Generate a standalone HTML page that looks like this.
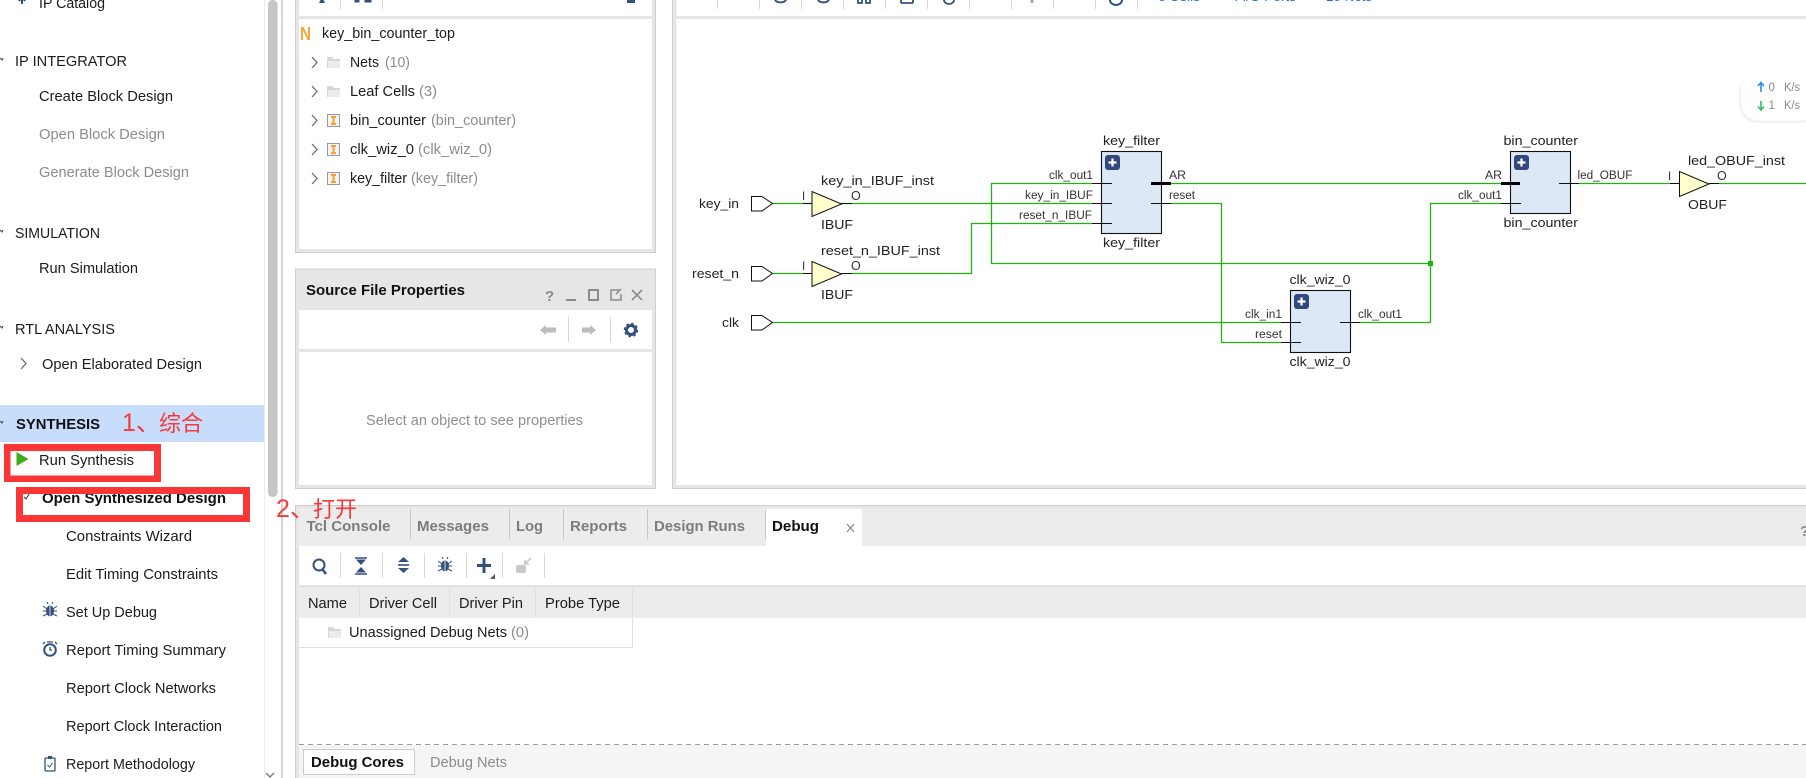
<!DOCTYPE html>
<html><head><meta charset="utf-8"><style>
html,body{margin:0;padding:0;background:#fff;width:1806px;height:778px;overflow:hidden}
svg{display:block}
text{font-family:"Liberation Sans","Noto Sans CJK SC",sans-serif;fill:#1c1c1c}
.n{font-size:14.5px}
.g{font-size:14.5px;fill:#8c8c8c}
.b{font-size:14.5px;font-weight:bold;fill:#111}
.t{font-size:14.5px;font-weight:bold;fill:#7c7c7c}
.d{font-size:13px;fill:#222}
.p{font-size:11.5px;fill:#333}
.r{font-size:22px;fill:#f63a3a}
.r2{font-size:25px;fill:#f63a3a}
.w{fill:none;stroke:#1fb30f;stroke-width:1.3}
.k{stroke:#111;stroke-width:1.1;fill:none}
.kk{stroke:#000;stroke-width:3;fill:none}
.box{fill:#dde8f7;stroke:#111;stroke-width:1.1}
.buf{fill:#ffffcc;stroke:#111;stroke-width:1}
.port{fill:#fff;stroke:#111;stroke-width:1}
.sep{stroke:#d6d6d6;stroke-width:1}
.ic{fill:#33507f}
</style></head><body>
<svg width="1806" height="778" viewBox="0 0 1806 778" xmlns="http://www.w3.org/2000/svg">
<defs>
<g id="folder"><path d="M0 2h5l1.500 2H13v9H0z" fill="#d6d6d6"/><path d="M1 6h12v7H1z" fill="#ececec"/></g>
<g id="inst"><rect x=".5" y=".5" width="12" height="12" fill="#f4f4f4" stroke="#9a9a9a"/><path d="M4 3h5M4 10h5M6.500 3v7" stroke="#f5a030" stroke-width="2" fill="none"/></g>
<g id="chev"><path d="M0 0l5 5.500-5 5.500" fill="none" stroke="#666" stroke-width="1.200"/></g>
<g id="plus"><rect width="15" height="15" rx="3" fill="#33487e"/><path d="M7.500 3.500v8M3.500 7.500h8" stroke="#fff" stroke-width="2.200"/></g>
<g id="bug"><ellipse cx="0" cy="1" rx="4" ry="5.500" fill="#33507f"/><path d="M-7 -4l4 3M7 -4l-4 3M-7 1h3M7 1h-3M-7 6l4 -2M7 6l-4 -2M-2 -6l-1 -2M2 -6l1 -2" stroke="#33507f" stroke-width="1" fill="none"/><path d="M0 -4v11" stroke="#fff" stroke-width=".8"/></g>
</defs>

<rect width="1806" height="778" fill="#fff"/>

<!-- left nav -->
<rect x="0" y="405" width="264" height="37" fill="#c8dcfb"/>
<rect x="264" y="0" width="1" height="778" fill="#ececec"/>
<rect x="268" y="0" width="9.500" height="497" rx="4.500" fill="#c6c6c6"/>
<rect x="281.500" y="0" width="1" height="778" fill="#a8a8a8"/>
<path d="M266 773l4 4 4-4" stroke="#777" fill="none" stroke-width="1.300"/>
<path d="M0 58l2 2 1-2M0 230l2 2 1-2M0 326l2 2 1-2M0 421l2 2 1-2" stroke="#444" fill="none"/>
<path d="M22 -3v7M19 1l3-4 3 4" stroke="#33507f" stroke-width="2" fill="none"/>
<text class="n" x="39" y="8" textLength="66" lengthAdjust="spacingAndGlyphs">IP Catalog</text>
<text class="n" x="15" y="66" textLength="112" lengthAdjust="spacingAndGlyphs">IP INTEGRATOR</text>
<text class="n" x="39" y="101" textLength="134" lengthAdjust="spacingAndGlyphs">Create Block Design</text>
<text class="g" x="39" y="139" textLength="126" lengthAdjust="spacingAndGlyphs">Open Block Design</text>
<text class="g" x="39" y="177" textLength="150" lengthAdjust="spacingAndGlyphs">Generate Block Design</text>
<text class="n" x="15" y="238" textLength="85" lengthAdjust="spacingAndGlyphs">SIMULATION</text>
<text class="n" x="39" y="273" textLength="99" lengthAdjust="spacingAndGlyphs">Run Simulation</text>
<text class="n" x="15" y="334" textLength="100" lengthAdjust="spacingAndGlyphs">RTL ANALYSIS</text>
<use href="#chev" x="21" y="358"/>
<text class="n" x="42" y="369" textLength="160" lengthAdjust="spacingAndGlyphs">Open Elaborated Design</text>
<text class="b" x="16" y="429" textLength="84" lengthAdjust="spacingAndGlyphs">SYNTHESIS</text>
<path d="M16.500 452l12 7-12 7z" fill="#3eaa1c"/>
<text class="n" x="39" y="465" textLength="95" lengthAdjust="spacingAndGlyphs">Run Synthesis</text>
<path d="M24 497l2 2 3-5" stroke="#333" fill="none"/>
<text class="b" x="42" y="503" textLength="184" lengthAdjust="spacingAndGlyphs">Open Synthesized Design</text>
<text class="n" x="66" y="541" textLength="126" lengthAdjust="spacingAndGlyphs">Constraints Wizard</text>
<text class="n" x="66" y="579" textLength="152" lengthAdjust="spacingAndGlyphs">Edit Timing Constraints</text>
<use href="#bug" x="50" y="610"/>
<text class="n" x="66" y="617" textLength="91" lengthAdjust="spacingAndGlyphs">Set Up Debug</text>
<circle cx="50" cy="650" r="5.800" fill="#fff" stroke="#33507f" stroke-width="2"/><path d="M50 647v3h2M45 642l-2 2M55 642l2 2M47 642h6" stroke="#33507f" fill="none" stroke-width="1.300"/>
<text class="n" x="66" y="655" textLength="160" lengthAdjust="spacingAndGlyphs">Report Timing Summary</text>
<text class="n" x="66" y="693" textLength="150" lengthAdjust="spacingAndGlyphs">Report Clock Networks</text>
<text class="n" x="66" y="731" textLength="156" lengthAdjust="spacingAndGlyphs">Report Clock Interaction</text>
<rect x="45" y="758" width="10" height="13" rx="1" fill="#fff" stroke="#33507f" stroke-width="1.300"/><rect x="48" y="756" width="4" height="3" fill="#33507f"/><path d="M47.500 765l2 2 3-4" stroke="#33507f" fill="none"/>
<text class="n" x="66" y="769" textLength="129" lengthAdjust="spacingAndGlyphs">Report Methodology</text>

<!-- netlist panel -->
<rect x="295" y="0" width="361" height="253" fill="#cfcfcf"/>
<rect x="296" y="0" width="359" height="252" fill="#e6e6e6"/>
<rect x="299" y="0" width="353" height="16" fill="#fff"/>
<rect x="299" y="19" width="353" height="230" fill="#fff"/>
<path d="M316 3l3-6 3 6z" class="ic" transform="translate(3,0)"/>
<path d="M354 0v2h4v-2M364 0v2h6v-2" class="ic" stroke="#33507f" fill="none" transform="translate(1,0)"/>
<rect x="627" y="-3" width="8" height="6" fill="#33507f"/>
<path d="M340.500 0v9M382.500 0v9" class="sep"/>
<text x="300" y="40" style="font-size:18px;font-weight:bold;fill:#f5a83a" textLength="11" lengthAdjust="spacingAndGlyphs">N</text>
<text class="n" x="322" y="38" textLength="133" lengthAdjust="spacingAndGlyphs">key_bin_counter_top</text>
<use href="#chev" x="312" y="57"/><use href="#folder" x="327" y="55"/>
<text class="n" x="350" y="67" textLength="29" lengthAdjust="spacingAndGlyphs">Nets</text>
<text class="g" x="385" y="67" textLength="25" lengthAdjust="spacingAndGlyphs">(10)</text>
<use href="#chev" x="312" y="86"/><use href="#folder" x="327" y="84"/>
<text class="n" x="350" y="96" textLength="65" lengthAdjust="spacingAndGlyphs">Leaf Cells</text>
<text class="g" x="419" y="96" textLength="18" lengthAdjust="spacingAndGlyphs">(3)</text>
<use href="#chev" x="312" y="115"/><use href="#inst" x="327" y="114"/>
<text class="n" x="350" y="125" textLength="76" lengthAdjust="spacingAndGlyphs">bin_counter</text>
<text class="g" x="431" y="125" textLength="85" lengthAdjust="spacingAndGlyphs">(bin_counter)</text>
<use href="#chev" x="312" y="144"/><use href="#inst" x="327" y="143"/>
<text class="n" x="350" y="154" textLength="64" lengthAdjust="spacingAndGlyphs">clk_wiz_0</text>
<text class="g" x="418" y="154" textLength="74" lengthAdjust="spacingAndGlyphs">(clk_wiz_0)</text>
<use href="#chev" x="312" y="173"/><use href="#inst" x="327" y="172"/>
<text class="n" x="350" y="183" textLength="57" lengthAdjust="spacingAndGlyphs">key_filter</text>
<text class="g" x="411" y="183" textLength="67" lengthAdjust="spacingAndGlyphs">(key_filter)</text>

<!-- source file properties -->
<rect x="295" y="268.500" width="361" height="220.500" fill="#cfcfcf"/>
<rect x="296" y="269.500" width="359" height="218.500" fill="#e6e6e6"/>
<rect x="299" y="310" width="353" height="39" fill="#fff"/>
<rect x="299" y="352" width="353" height="133" fill="#fff"/>
<text class="b" x="306" y="295" textLength="159" lengthAdjust="spacingAndGlyphs">Source File Properties</text>
<text x="545" y="301" style="font-size:15px;font-weight:bold;fill:#8a8a8a">?</text>
<path d="M566 300h10" stroke="#8a8a8a" stroke-width="2"/>
<rect x="589" y="290" width="9" height="10" fill="none" stroke="#8a8a8a" stroke-width="2"/>
<path d="M619 290h-8v10h10v-6M616 294l5-5" fill="none" stroke="#8a8a8a" stroke-width="1.500"/>
<path d="M632 290l10 10M642 290l-10 10" stroke="#8a8a8a" stroke-width="1.600"/>
<path d="M540 330l6-5v2.500h10v5h-10v2.500z" fill="#bcbcbc"/>
<path d="M596 330l-6-5v2.500h-8v5h8v2.500z" fill="#bcbcbc"/>
<path d="M568.500 317v25M610.500 317v25" class="sep"/>
<circle cx="631" cy="330" r="4.500" fill="none" stroke="#33507f" stroke-width="3"/>
<circle cx="631" cy="330" r="6.500" fill="none" stroke="#33507f" stroke-width="1.500" stroke-dasharray="2.500 2.600"/>
<text x="366" y="425" style="font-size:14.5px;fill:#8f8f8f" textLength="217" lengthAdjust="spacingAndGlyphs">Select an object to see properties</text>

<!-- diagram panel -->
<rect x="672" y="0" width="1" height="489" fill="#cfcfcf"/>
<rect x="673" y="0" width="3.500" height="488" fill="#e6e6e6"/>
<rect x="676" y="16" width="1130" height="3" fill="#e6e6e6"/>
<rect x="673" y="485" width="1133" height="3" fill="#e6e6e6"/>
<rect x="672" y="488" width="1134" height="1" fill="#cfcfcf"/>
<path d="M717.500 0v9M759.500 0v9M801.500 0v9M843.500 0v9M885.500 0v9M927.500 0v9M969.500 0v9M1011.500 0v9M1053.500 0v9M1095.500 0v9M1137.500 0v9" class="sep"/>
<path d="M775 0a6 4 0 0 0 11 0M818 0a6 4 0 0 0 11 0" fill="none" stroke="#33507f" stroke-width="2"/>
<path d="M858 0v3h4v-3M866 0v3h4v-3M901 3h12M901 0v3M913 0v3M944 0a5 4 0 0 0 10 0" fill="none" stroke="#33507f" stroke-width="1.800"/>
<path d="M1032 0v3" stroke="#aaa" stroke-width="3"/>
<path d="M1110 0a6 5 0 0 0 12 0" fill="none" stroke="#33507f" stroke-width="2"/>
<g style="font-size:13px"><text x="1158" y="1" style="fill:#1a6fe0" textLength="42" lengthAdjust="spacingAndGlyphs">6 Cells</text><text x="1231" y="1" style="fill:#1a6fe0" textLength="65" lengthAdjust="spacingAndGlyphs">4 I/O Ports</text><text x="1326" y="1" style="fill:#1a6fe0" textLength="46" lengthAdjust="spacingAndGlyphs">10 Nets</text></g>

<!-- wires -->
<path class="w" d="M772.500 203.500H1092M772.500 273.500H803M852 273.500H971.500V223.500H1092"/>
<path class="w" d="M1092 183.500H991.500V263.500H1430.500M1171 203.500H1221.500V342.500H1281M772.500 322.500H1281M1171 183.500H1501"/>
<path class="w" d="M1501 203.500H1430.500V322.500H1360M1579 183.500H1670M1719 183.500H1806"/>
<rect x="1428" y="261" width="5" height="5" fill="#1fb30f"/>

<!-- ports -->
<path class="port" d="M751.500 196.500h10.500l10.500 7-10.500 7.500h-10.500z"/>
<path class="port" d="M751.500 266.500h10.500l10.500 7-10.500 7.500h-10.500z"/>
<path class="port" d="M751.500 315.500h10.500l10.500 7-10.500 7.500h-10.500z"/>
<text class="d" x="699" y="208" textLength="40" lengthAdjust="spacingAndGlyphs">key_in</text>
<text class="d" x="692" y="278" textLength="47" lengthAdjust="spacingAndGlyphs">reset_n</text>
<text class="d" x="722" y="327" textLength="17" lengthAdjust="spacingAndGlyphs">clk</text>

<!-- buffers -->
<path class="k" d="M803 203.500h9M841.500 203.500H852M803 273.500h9M841.500 273.500H852M1670 183.500h10M1709 183.500h10"/>
<path class="buf" d="M812 191.500v25l29.500-12.500z"/>
<path class="buf" d="M812 261.500v25l29.500-12.500z"/>
<path class="buf" d="M1679.500 171.500v25l29.500-12.500z"/>
<text class="p" x="802" y="200">I</text><text class="p" x="851" y="200" style="font-size:12.500px">O</text>
<text class="p" x="802" y="270">I</text><text class="p" x="851" y="270" style="font-size:12.500px">O</text>
<text class="p" x="1668" y="180">I</text><text class="p" x="1717" y="180" style="font-size:12.500px">O</text>
<text class="d" x="821" y="185" textLength="113" lengthAdjust="spacingAndGlyphs">key_in_IBUF_inst</text>
<text class="d" x="821" y="229" textLength="32" lengthAdjust="spacingAndGlyphs">IBUF</text>
<text class="d" x="821" y="255" textLength="119" lengthAdjust="spacingAndGlyphs">reset_n_IBUF_inst</text>
<text class="d" x="821" y="299" textLength="32" lengthAdjust="spacingAndGlyphs">IBUF</text>
<text class="d" x="1688" y="165" textLength="97" lengthAdjust="spacingAndGlyphs">led_OBUF_inst</text>
<text class="d" x="1688" y="209" textLength="39" lengthAdjust="spacingAndGlyphs">OBUF</text>

<!-- key_filter -->
<rect class="box" x="1101.500" y="151.500" width="60" height="82"/>
<use href="#plus" x="1105" y="155"/>
<path class="k" d="M1092 183.500h20M1092 203.500h20M1092 223.500h20M1151 203.500h20"/>
<path class="kk" d="M1151 183.500h20"/>
<text class="d" x="1103" y="145" textLength="57" lengthAdjust="spacingAndGlyphs">key_filter</text>
<text class="d" x="1103" y="247" textLength="57" lengthAdjust="spacingAndGlyphs">key_filter</text>
<text class="p" x="1049" y="179" textLength="44" lengthAdjust="spacingAndGlyphs">clk_out1</text>
<text class="p" x="1025" y="199" textLength="68" lengthAdjust="spacingAndGlyphs">key_in_IBUF</text>
<text class="p" x="1019" y="219" textLength="73" lengthAdjust="spacingAndGlyphs">reset_n_IBUF</text>
<text class="p" x="1169" y="179" textLength="17" lengthAdjust="spacingAndGlyphs">AR</text>
<text class="p" x="1169" y="199" textLength="26" lengthAdjust="spacingAndGlyphs">reset</text>

<!-- clk_wiz_0 -->
<rect class="box" x="1290.500" y="290.500" width="60" height="62"/>
<use href="#plus" x="1294" y="294"/>
<path class="k" d="M1281 322.500h20M1281 342.500h20M1340 322.500h20"/>
<text class="d" x="1289.500" y="284" textLength="61" lengthAdjust="spacingAndGlyphs">clk_wiz_0</text>
<text class="d" x="1289.500" y="366" textLength="61" lengthAdjust="spacingAndGlyphs">clk_wiz_0</text>
<text class="p" x="1245" y="318" textLength="37" lengthAdjust="spacingAndGlyphs">clk_in1</text>
<text class="p" x="1255" y="338" textLength="27" lengthAdjust="spacingAndGlyphs">reset</text>
<text class="p" x="1358" y="318" textLength="44" lengthAdjust="spacingAndGlyphs">clk_out1</text>

<!-- bin_counter -->
<rect class="box" x="1510.500" y="151.500" width="60" height="62"/>
<use href="#plus" x="1514" y="155"/>
<path class="k" d="M1501 203.500h20M1559 183.500h20"/>
<path class="kk" d="M1501 183.500h19"/>
<text class="d" x="1503.500" y="145" textLength="74.500" lengthAdjust="spacingAndGlyphs">bin_counter</text>
<text class="d" x="1503.500" y="227" textLength="74.500" lengthAdjust="spacingAndGlyphs">bin_counter</text>
<text class="p" x="1485" y="179" textLength="17" lengthAdjust="spacingAndGlyphs">AR</text>
<text class="p" x="1458" y="199" textLength="44" lengthAdjust="spacingAndGlyphs">clk_out1</text>
<text class="p" x="1577.500" y="179" textLength="55" lengthAdjust="spacingAndGlyphs">led_OBUF</text>

<!-- network widget -->
<rect x="1739" y="73" width="80" height="50" rx="18" fill="#e8e8e8" opacity=".55"/>
<rect x="1741" y="71" width="80" height="49.500" rx="18" fill="#fff"/>
<path d="M1761 92v-9M1758 86l3-3.500 3 3.500" stroke="#2a8fe8" stroke-width="1.600" fill="none"/>
<path d="M1761 101v9M1758 106.500l3 3.500 3-3.500" stroke="#2cc060" stroke-width="1.600" fill="none"/>
<g style="font-size:11.500px"><text x="1768.500" y="91" style="fill:#888">0</text><text x="1784" y="91" style="fill:#888" textLength="16" lengthAdjust="spacingAndGlyphs">K/s</text><text x="1768.500" y="109" style="fill:#888">1</text><text x="1784" y="109" style="fill:#888" textLength="16" lengthAdjust="spacingAndGlyphs">K/s</text></g>

<!-- bottom panel -->
<rect x="295" y="505" width="1511" height="273" fill="#fff"/>
<rect x="295" y="505" width="1511" height="1" fill="#cfcfcf"/>
<rect x="295" y="505" width="1" height="273" fill="#cfcfcf"/>
<rect x="296" y="506" width="3" height="272" fill="#e6e6e6"/>
<rect x="299" y="506" width="1507" height="2" fill="#e6e6e6"/>
<rect x="299" y="508" width="1507" height="38" fill="#ececec"/>
<rect x="766" y="509" width="96" height="37" fill="#fff"/>
<path d="M410.500 509v31M509.500 509v31M563.500 509v31M647.500 509v31M765.500 509v31" stroke="#c8c8c8"/>
<text class="t" x="306.500" y="531" textLength="84" lengthAdjust="spacingAndGlyphs">Tcl Console</text>
<text class="t" x="417" y="531" textLength="72" lengthAdjust="spacingAndGlyphs">Messages</text>
<text class="t" x="516" y="531" textLength="27" lengthAdjust="spacingAndGlyphs">Log</text>
<text class="t" x="570" y="531" textLength="57" lengthAdjust="spacingAndGlyphs">Reports</text>
<text class="t" x="654" y="531" textLength="91" lengthAdjust="spacingAndGlyphs">Design Runs</text>
<text class="b" x="772" y="531" textLength="47" lengthAdjust="spacingAndGlyphs">Debug</text>
<path d="M847 524l7 8M854 524l-7 8" stroke="#8a8a8a" stroke-width="1.300"/>
<text x="1800" y="536" style="font-size:15px;font-weight:bold;fill:#8a8a8a">?</text>

<!-- debug toolbar -->
<path d="M340.500 553v25M382.500 553v25M424.500 553v25M466.500 553v25M502.500 553v25M544.500 553v25" class="sep"/>
<circle cx="319" cy="565" r="5.500" fill="none" stroke="#33507f" stroke-width="2"/><path d="M323 570l3 4" stroke="#33507f" stroke-width="2.500"/>
<path d="M355 558h12M355 574h12" stroke="#33507f" stroke-width="1.600"/><path d="M356 559.500h10l-5 5.500zM356 572.500h10l-5-5.500z" class="ic"/>
<path d="M403.500 557l5.500 5h-11zM403.500 573l5.500-5h-11z" class="ic"/><path d="M398 565h11" stroke="#33507f" stroke-width="1.600"/>
<use href="#bug" x="445" y="565"/>
<path d="M484 558v15M477 565.500h14" stroke="#33507f" stroke-width="3"/><path d="M495 574v5h-5z" fill="#555"/>
<rect x="516" y="565" width="10" height="8" rx="2" fill="#c8c8c8"/><path d="M531 558l-6 6M525 560v4h4" stroke="#c8c8c8" stroke-width="1.600" fill="none"/>

<!-- table -->
<rect x="299" y="585" width="1507" height="3" fill="#e4e4e4"/>
<rect x="299" y="588" width="1507" height="30" fill="#ececec"/>
<path d="M359.500 588v30M449.500 588v30M535.500 588v30M632.500 588v59M299 647.500h334" stroke="#e0e0e0" fill="none"/>
<text class="n" x="308" y="608" textLength="39" lengthAdjust="spacingAndGlyphs">Name</text>
<text class="n" x="369" y="608" textLength="68" lengthAdjust="spacingAndGlyphs">Driver Cell</text>
<text class="n" x="459" y="608" textLength="64" lengthAdjust="spacingAndGlyphs">Driver Pin</text>
<text class="n" x="545" y="608" textLength="75" lengthAdjust="spacingAndGlyphs">Probe Type</text>
<use href="#folder" x="328" y="625"/>
<text class="n" x="349" y="637" textLength="158" lengthAdjust="spacingAndGlyphs">Unassigned Debug Nets</text>
<text class="g" x="511" y="637" textLength="18" lengthAdjust="spacingAndGlyphs">(0)</text>

<!-- bottom tabs -->
<rect x="299" y="745" width="1507" height="33" fill="#f5f5f5"/>
<path d="M299 744.500H1806" stroke="#9c9c9c" stroke-dasharray="5 4"/>
<rect x="303.500" y="749.500" width="111" height="25" fill="#fff" stroke="#cdcdcd"/>
<text class="b" x="311" y="767" textLength="93" lengthAdjust="spacingAndGlyphs">Debug Cores</text>
<text class="g" x="430" y="767" textLength="77" lengthAdjust="spacingAndGlyphs">Debug Nets</text>

<!-- annotations -->
<path fill="#fb3636" fill-rule="evenodd" d="M4 444H161V482H4zM10.500 451V475.500H154V451z"/>
<path fill="#fb3636" fill-rule="evenodd" d="M16 487H250V522H16zM23 494V515H243V494z"/>
<text class="r2" x="122" y="431">1、</text><text class="r" x="159" y="431">综合</text>
<text class="r2" x="276" y="517">2、</text><text class="r" x="313" y="517">打开</text>
</svg>
</body></html>
